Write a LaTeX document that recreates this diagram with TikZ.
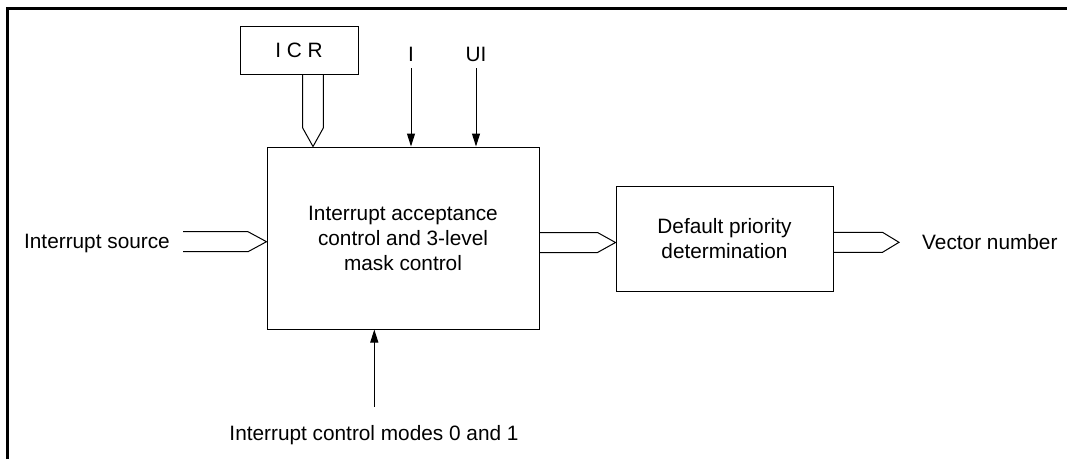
\documentclass[tikz,border=0pt]{standalone}
\usepackage{fontspec}
\setmainfont{Liberation Sans}
\usetikzlibrary{arrows.meta,calc}
\begin{document}
\begin{tikzpicture}[x=1pt,y=-1pt,
  blk/.style={draw,line width=1pt,inner sep=0pt,align=center,font=\fontsize{20.8}{25}\selectfont},
  lbl/.style={inner sep=0pt,font=\fontsize{20.8}{25}\selectfont},
  bus/.style={draw,line width=1pt,line join=miter},
  sig/.style={draw,line width=1pt,-{Triangle[length=13pt,width=8pt]}},
  frameline/.style={line width=2.5pt}]
\useasboundingbox (0,0) rectangle (1067,459);
\draw[frameline] (7.5,459) -- (7.5,8.3) -- (1067,8.3);

\node[blk,minimum width=272pt,minimum height=182pt] (main) at (403,238) {Interrupt acceptance\\control and 3-level\\mask control};
\node[blk,minimum width=217pt,minimum height=105pt] (dpd) at (724.5,238.5) {Default priority\\determination};
\node[blk,minimum width=118pt,minimum height=48pt] (icr) at (299,50) {I C R};
\node[lbl,anchor=east] (src) at (170,243) {Interrupt source};
\node[lbl,anchor=west] (vec) at (922,242) {Vector number};
\node[lbl] (ilbl) at (411,54) {I};
\node[lbl] (uilbl) at (476,54) {UI};
\node[lbl] (icm) at (374,435) {Interrupt control modes 0 and 1};

% single arrows
\coordinate (itop) at (411,68);
\coordinate (uitop) at (476,68);
\coordinate (icmtop) at (374.3,406.7);
\draw[sig] (itop) -- (itop |- main.north);
\draw[sig] (uitop) -- (uitop |- main.north);
\draw[sig] (icmtop) -- (icmtop |- main.south);

% buses
\coordinate (icrb) at (313,74);
\draw[bus] ($(icrb)+(-10.3,0)$) -- ($(icrb)+(-10.3,54)$) -- (icrb |- main.north) -- ($(icrb)+(10.3,54)$) -- ($(icrb)+(10.3,0)$);

\coordinate (srcb) at (183,241.7);
\draw[bus] ($(srcb)+(0,-10)$) -- ($(srcb)+(65,-10)$) -- (srcb -| main.west) -- ($(srcb)+(65,10)$) -- ($(srcb)+(0,10)$);

\coordinate (mb) at (main.east |- 0,242.5);
\draw[bus] ($(mb)+(0,-10)$) -- ($(mb)+(58,-10)$) -- (mb -| dpd.west) -- ($(mb)+(58,10)$) -- ($(mb)+(0,10)$);

\coordinate (ob) at (dpd.east |- 0,242.3);
\coordinate (otip) at (899,242.3);
\draw[bus] ($(ob)+(0,-10)$) -- ($(ob)+(49,-10)$) -- (otip) -- ($(ob)+(49,10)$) -- ($(ob)+(0,10)$);
\end{tikzpicture}
\end{document}
